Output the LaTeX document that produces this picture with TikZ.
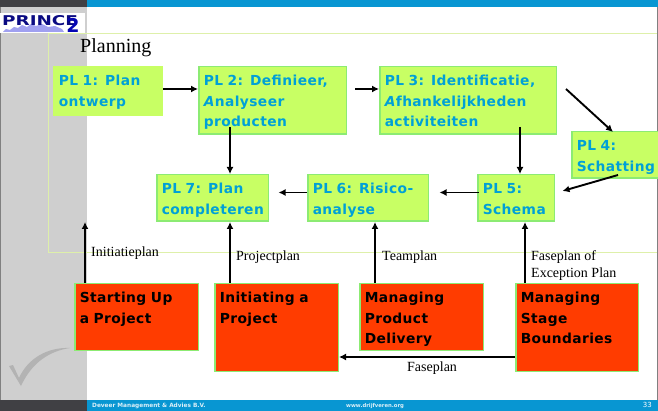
\documentclass[tikz,border=0pt]{standalone}
\usepackage{fontspec}
\setmainfont{Liberation Serif}
\newfontfamily\boxfont[LetterSpace=3]{DejaVu Sans}
\newfontfamily\footfont{DejaVu Sans}
\usetikzlibrary{arrows.meta,positioning,calc}
\definecolor{PlanFill}{RGB}{200,255,100}
\definecolor{PlanEdge}{RGB}{140,235,115}
\definecolor{PlanText}{RGB}{0,160,215}
\definecolor{RedFill}{RGB}{255,60,0}
\definecolor{BarBlue}{RGB}{8,150,210}
\definecolor{BarDark}{RGB}{64,64,68}
\definecolor{SideGray}{RGB}{207,207,207}
\definecolor{FrameLine}{RGB}{222,240,170}
\definecolor{LogoBlue}{RGB}{10,10,130}
\definecolor{LogoSky}{RGB}{160,160,240}
\tikzset{
  basebox/.style={draw=PlanEdge, line width=1.5pt, anchor=north west, align=left,
    inner xsep=5pt, inner ysep=4pt, text height=15pt,
    font=\boxfont\fontsize{13.8}{20.5}\selectfont\bfseries},
  planbox/.style={basebox, fill=PlanFill, text=PlanText},
  redbox/.style={basebox, fill=RedFill, text=black},
  flow/.style={-{Latex[length=7pt,width=7pt]}, line width=1.9pt, black},
  tag/.style={anchor=north west, inner sep=0pt, align=left, font=\fontsize{14}{17.5}\selectfont}
}
\begin{document}
\begin{tikzpicture}[x=1pt,y=-1pt]
  \useasboundingbox (0,0) rectangle (658,411);
  % slide background
  \fill[white] (0,0) rectangle (658,411);
  \fill[SideGray] (0,0) rectangle (87,411);
  \draw[FrameLine] (48,33)--(658,33);
  \draw[FrameLine] (48,33)--(48,252)--(658,252);
  \fill[BarDark] (0,0) rectangle (87,7);
  \fill[BarBlue] (87,0) rectangle (658,7);
  \fill[BarDark] (0,400) rectangle (87,411);
  \fill[BarBlue] (87,400) rectangle (658,411);
  \draw[gray] (0.5,7)--(0.5,400);
  \draw[gray] (657.5,7)--(657.5,400);
  % logo
  \fill[white] (0,13) rectangle (85,33);
  \fill[LogoSky] (3,32)--(6,29)--(10,30)--(14,27)--(18,28)--(22,25)--(27,27)--(31,24)--(36,26)--(42,24)--(48,27)--(55,26)--(62,29)--(64,32)--cycle;
  \node[anchor=west, inner sep=0pt, text=LogoBlue, font=\footfont\fontsize{13.5}{14}\selectfont\bfseries] (logotext) at (2,20.5) {\scalebox{1.36}[1]{PRINCE}};
  \node[anchor=center, inner sep=0pt, text=LogoBlue!60!blue, font=\footfont\fontsize{19}{19}\selectfont\bfseries] (logotwo) at (73,25) {2};
  % swoosh
  \fill[gray!35!SideGray] (9,366)--(13,365)--(19,378) .. controls (28,358) and (48,347) .. (70,348) .. controls (50,351) and (32,362) .. (21,386)--cycle;
  \node[anchor=west, inner sep=0pt, text=white!85!BarBlue, font=\footfont\fontsize{5.8}{6}\selectfont\bfseries] (footleft) at (92,406) {Deveer Management \& Advies B.V.};
  \node[anchor=west, inner sep=0pt, text=white!85!BarBlue, font=\footfont\fontsize{5.3}{6}\selectfont\bfseries] (footmid) at (346,406) {www.drijfveren.org};
  \node[anchor=east, inner sep=0pt, text=white, font=\footfont\fontsize{7}{8}\selectfont] (pagenr) at (652,405) {33};
  \node[anchor=west, inner sep=0pt, font=\fontsize{20}{22}\selectfont] (title) at (80,48) {Planning};
  % process boxes
  \node[planbox, draw=PlanFill, text width=98.5pt, text depth=25.5pt] (pl1) at (53,66) {PL 1: Plan\\ontwerp};
  \node[planbox, text width=137.5pt, text depth=44.5pt] (pl2) at (198,66) {PL 2: Definieer,\\\textit{A}nalyseer\\producten};
  \node[planbox, text width=166.5pt, text depth=44.5pt] (pl3) at (379,66) {PL 3: Identificatie,\\\textit{A}fhankelijkheden\\activiteiten};
  \node[planbox, text width=77pt, text depth=23.5pt] (pl4) at (571,131) {PL 4:\\\mbox{Schatting}};
  \node[planbox, text width=66.5pt, text depth=23.5pt] (pl5) at (477,174) {PL 5:\\Schema};
  \node[planbox, text width=110.5pt, text depth=23.5pt] (pl6) at (307,174) {PL 6: Risico-\\analyse};
  \node[planbox, text width=101.5pt, text depth=23.5pt] (pl7) at (156,174) {PL 7: Plan\\\mbox{completeren}};
  \node[redbox, text width=113.5pt, text depth=43.5pt] (su) at (74,283) {Starting Up\\a Project};
  \node[redbox, text width=113.5pt, text depth=64.5pt] (ip) at (214,283) {Initiating a\\Project};
  \node[redbox, text width=113.5pt, text depth=43.5pt] (mpd) at (359,283) {Managing\\Product\\Delivery};
  \node[redbox, text width=112.5pt, text depth=64.5pt] (msb) at (515,283) {Managing\\Stage\\Boundaries};
  % labels
  \node[tag] (lbini) at (91,247) {Initiatieplan};
  \node[tag] (lbpro) at (236,251) {Projectplan};
  \node[tag] (lbteam) at (382,251) {Teamplan};
  \node[tag] (lbfase) at (531,250) {Faseplan of\\Exception Plan};
  \node[tag] (lbdel) at (407,362) {Faseplan};
  % flows
  \coordinate (suend) at (85,222);
  \coordinate (pl3out) at (566,89);
  \coordinate (pl4in) at (613,132);
  \draw[flow] (pl1.east |- 0,89) -- (pl2.west |- 0,89);
  \draw[flow] ([xshift=8pt]pl2.east |- 0,89) -- (pl3.west |- 0,89);
  \draw[flow] (pl3out) -- (pl4in);
  \draw[flow] ([xshift=32pt,yshift=8pt]pl2.south west) -- ([xshift=74pt]pl7.north west);
  \draw[flow] ([xshift=141pt,yshift=8pt]pl3.south west) -- ([xshift=43pt]pl5.north west);
  \draw[flow] ([xshift=47pt,yshift=4pt]pl4.south west) -- ([xshift=7.5pt,yshift=7pt]pl5.east);
  \draw[flow] ([xshift=2pt,yshift=5.5pt]pl5.west) -- ([xshift=10.5pt,yshift=5.5pt]pl6.east);
  \draw[flow] ([yshift=5.5pt]pl6.west) -- ([xshift=9.5pt,yshift=5.5pt]pl7.east);
  \draw[flow] (su.north -| suend) -- (suend);
  \draw[flow] ([xshift=16pt]ip.north west) -- ([xshift=74pt]pl7.south west);
  \draw[flow] ([xshift=16pt]mpd.north west) -- ([xshift=68pt]pl6.south west);
  \draw[flow] ([xshift=10pt]msb.north west) -- ([xshift=48pt]pl5.south west);
  \draw[flow] ([yshift=15pt]msb.south west) -- ([yshift=15pt]ip.south east);
\end{tikzpicture}
\end{document}
